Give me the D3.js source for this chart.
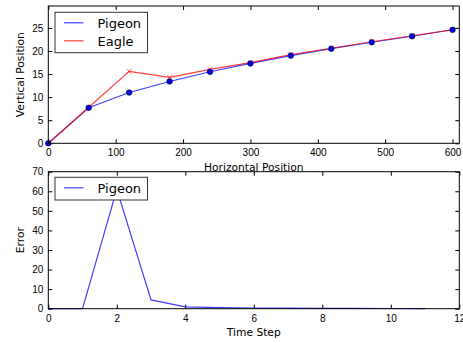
<!DOCTYPE html>
<html lang="en">
<head>
<meta charset="utf-8">
<script src="https://d3js.org/d3.v7.min.js"></script>
<style>
  body { margin: 0; background: #fff; }
  svg { display: block; font-family: "DejaVu Sans", sans-serif; }
  .tick text { font-size: 10px; fill: #000; }
  .lbl { font-size: 10.7px; fill: #000; }
  .leg { font-size: 13px; fill: #000; }
</style>
</head>
<body>
<svg width="463" height="343"></svg>
<script>
  // top panel data
  var xPos = [0, 60, 120, 180, 240, 300, 360, 420, 480, 540, 600];
  var pigeonY = [0, 7.7, 11.0, 13.4, 15.5, 17.3, 19.0, 20.5, 21.9, 23.2, 24.6];
  var eagleY = [0, 7.8, 15.6, 14.3, 16.0, 17.5, 19.2, 20.6, 22.0, 23.3, 24.6];
  var topXTicks = [0, 100, 200, 300, 400, 500, 600];
  var topYTicks = [0, 5, 10, 15, 20, 25];

  // bottom panel data
  var steps = [0, 1, 2, 3, 4, 5, 6, 7, 8, 9, 10, 11];
  var pigeonErr = [0, 0, 61, 4.5, 0.9, 0.5, 0.35, 0.25, 0.2, 0.15, 0.1, 0.08];
  var botXTicks = [0, 2, 4, 6, 8, 10, 12];
  var botYTicks = [0, 10, 20, 30, 40, 50, 60, 70];

  var svg = d3.select("svg");
  var left = 48.3, right = 459.3;

  function frame(g, x, y, xt, yt) {
    var x0 = x.range()[0], x1 = x.range()[1], y0 = y.range()[0], y1 = y.range()[1];
    g.append("g").attr("transform", "translate(0," + y0 + ")")
      .call(d3.axisBottom(x).tickValues(xt).tickSize(-4).tickPadding(6).tickSizeOuter(0))
      .call(a => a.select(".domain").remove());
    g.append("g").attr("transform", "translate(0," + y1 + ")")
      .call(d3.axisTop(x).tickValues(xt).tickSize(-4).tickFormat("").tickSizeOuter(0))
      .call(a => a.select(".domain").remove());
    g.append("g").attr("transform", "translate(" + x0 + ",0)")
      .call(d3.axisLeft(y).tickValues(yt).tickSize(-4).tickPadding(5).tickSizeOuter(0))
      .call(a => a.select(".domain").remove());
    g.append("g").attr("transform", "translate(" + x1 + ",0)")
      .call(d3.axisRight(y).tickValues(yt).tickSize(-4).tickFormat("").tickSizeOuter(0))
      .call(a => a.select(".domain").remove());
  }

  function border(g, x, y) {
    g.append("rect")
      .attr("x", x.range()[0]).attr("y", y.range()[1])
      .attr("width", x.range()[1] - x.range()[0])
      .attr("height", y.range()[0] - y.range()[1])
      .attr("fill", "none").attr("stroke", "#000").attr("stroke-width", 1);
  }

  function legend(g, lx, ly, h, items) {
    g.append("rect").attr("x", lx).attr("y", ly).attr("width", 92.5).attr("height", h)
      .attr("fill", "#fff").attr("stroke", "#333").attr("stroke-width", 1);
    items.forEach(function (it, i) {
      var yy = ly + 10.5 + i * 18;
      g.append("line").attr("x1", lx + 9).attr("x2", lx + 28.5).attr("y1", yy).attr("y2", yy)
        .attr("stroke", it.color).attr("stroke-opacity", 0.75).attr("stroke-width", 1.2);
      g.append("text").attr("class", "leg").attr("x", lx + 42.5).attr("y", yy + 4.7).text(it.name);
    });
  }

  // ---------- top panel ----------
  var x1 = d3.scaleLinear().domain([0, 610]).range([left, right]);
  var y1 = d3.scaleLinear().domain([0, 29.75]).range([143.3, 6]);
  var topG = svg.append("g");
  frame(topG, x1, y1, topXTicks, topYTicks);

  var line1 = d3.line().x(function (d, i) { return x1(xPos[i]); }).y(function (d) { return y1(d); });

  topG.append("path").datum(pigeonY).attr("d", line1)
    .attr("fill", "none").attr("stroke", "blue").attr("stroke-opacity", 0.75).attr("stroke-width", 1.2);
  topG.append("path").datum(eagleY).attr("d", line1)
    .attr("fill", "none").attr("stroke", "red").attr("stroke-opacity", 0.75).attr("stroke-width", 1.2);

  topG.selectAll(".xm").data(eagleY).enter().append("path")
    .attr("class", "xm")
    .attr("transform", function (d, i) { return "translate(" + x1(xPos[i]) + "," + y1(d) + ")"; })
    .attr("d", "M-2.5,-2.5L2.5,2.5M-2.5,2.5L2.5,-2.5")
    .attr("stroke", "red").attr("stroke-opacity", 0.6).attr("stroke-width", 1);

  topG.selectAll(".dot").data(pigeonY).enter().append("circle")
    .attr("class", "dot")
    .attr("cx", function (d, i) { return x1(xPos[i]); })
    .attr("cy", function (d) { return y1(d); })
    .attr("r", 2.8)
    .attr("fill", "#0000dd").attr("stroke", "#000044").attr("stroke-width", 0.6);

  border(topG, x1, y1);
  legend(topG, 55, 12.3, 40.4, [{ name: "Pigeon", color: "blue" }, { name: "Eagle", color: "red" }]);

  // ---------- bottom panel ----------
  var x2 = d3.scaleLinear().domain([0, 12]).range([left, right]);
  var y2 = d3.scaleLinear().domain([0, 70]).range([308.7, 171.7]);
  var botG = svg.append("g");
  frame(botG, x2, y2, botXTicks, botYTicks);

  botG.append("path").datum(pigeonErr)
    .attr("d", d3.line().x(function (d, i) { return x2(steps[i]); }).y(function (d) { return y2(d); }))
    .attr("fill", "none").attr("stroke", "blue").attr("stroke-opacity", 0.75).attr("stroke-width", 1.2);

  border(botG, x2, y2);
  legend(botG, 55, 177.3, 22.7, [{ name: "Pigeon", color: "blue" }]);

  // axis labels
  svg.append("text").attr("class", "lbl").attr("x", (left + right) / 2).attr("y", 170.5)
    .attr("text-anchor", "middle").text("Horizontal Position");
  svg.append("text").attr("class", "lbl").attr("x", (left + right) / 2).attr("y", 336)
    .attr("text-anchor", "middle").text("Time Step");
  svg.append("text").attr("class", "lbl").attr("text-anchor", "middle")
    .attr("transform", "translate(24," + (6 + 143.3) / 2 + ") rotate(-90)").text("Vertical Position");
  svg.append("text").attr("class", "lbl").attr("text-anchor", "middle")
    .attr("transform", "translate(24," + (171.7 + 308.7) / 2 + ") rotate(-90)").text("Error");
</script>
</body>
</html>
